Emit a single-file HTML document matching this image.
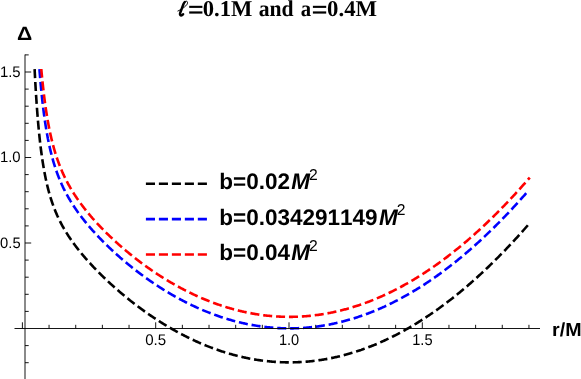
<!DOCTYPE html>
<html><head><meta charset="utf-8"><title>plot</title>
<style>html,body{margin:0;padding:0;background:#fff;}svg{display:block;will-change:transform;}text{text-rendering:geometricPrecision;font-kerning:none;}</style></head>
<body><svg width="581" height="379" viewBox="0 0 581 379" role="img" aria-label="Plot of Delta versus r/M for l=0.1M and a=0.4M">
<title>ℓ=0.1M and a=0.4M</title>
<rect x="0" y="0" width="581" height="379" fill="#fff"/>
<defs><clipPath id="cp"><rect x="0" y="69.10" width="581" height="400"/></clipPath></defs>
<path d="M34.07 57.49 L34.07 57.51 L34.07 57.55 L34.08 57.62 L34.08 57.71 L34.09 57.83 L34.09 57.99 L34.10 58.16 L34.11 58.37 L34.12 58.60 L34.13 58.86 L34.15 59.14 L34.16 59.46 L34.18 59.79 L34.19 60.16 L34.21 60.55 L34.23 60.96 L34.25 61.40 L34.27 61.87 L34.29 62.36 L34.32 62.87 L34.34 63.41 L34.37 63.97 L34.40 64.55 L34.42 65.16 L34.45 65.78 L34.49 66.44 L34.52 67.11 L34.55 67.80 L34.59 68.51 L34.62 69.25 L34.66 70.00 L34.70 70.78 L34.74 71.57 L34.78 72.38 L34.82 73.21 L34.87 74.05 L34.91 74.91 L34.96 75.79 L35.00 76.69 L35.05 77.60 L35.10 78.52 L35.15 79.46 L35.20 80.42 L35.26 81.38 L35.31 82.36 L35.37 83.35 L35.42 84.36 L35.48 85.37 L35.54 86.40 L35.60 87.44 L35.66 88.48 L35.73 89.54 L35.79 90.60 L35.86 91.68 L35.92 92.76 L35.99 93.85 L36.06 94.94 L36.13 96.04 L36.20 97.15 L36.28 98.27 L36.35 99.38 L36.43 100.51 L36.50 101.64 L36.58 102.77 L36.66 103.90 L36.74 105.04 L36.82 106.18 L36.90 107.33 L36.99 108.47 L37.07 109.62 L37.16 110.77 L37.25 111.92 L37.33 113.07 L37.42 114.22 L37.52 115.37 L37.61 116.52 L37.70 117.66 L37.80 118.81 L37.89 119.96 L37.99 121.10 L38.09 122.24 L38.19 123.38 L38.29 124.52 L38.39 125.65 L38.50 126.78 L38.60 127.91 L38.71 129.03 L38.81 130.16 L38.92 131.27 L39.03 132.38 L39.14 133.49 L39.25 134.60 L39.37 135.69 L39.48 136.79 L39.60 137.88 L39.71 138.96 L39.83 140.04 L39.95 141.11 L40.07 142.18 L40.19 143.24 L40.32 144.30 L40.44 145.35 L40.57 146.39 L40.69 147.43 L40.82 148.46 L40.95 149.49 L41.08 150.51 L41.21 151.52 L41.35 152.52 L41.48 153.52 L41.62 154.52 L41.75 155.50 L41.89 156.48 L42.03 157.45 L42.17 158.42 L42.31 159.38 L42.45 160.33 L42.60 161.27 L42.74 162.21 L42.89 163.14 L43.04 164.06 L43.19 164.98 L43.34 165.89 L43.49 166.79 L43.64 167.69 L43.79 168.58 L43.95 169.46 L44.10 170.34 L44.26 171.20 L44.42 172.07 L44.58 172.92 L44.74 173.77 L44.90 174.61 L45.07 175.44 L45.23 176.27 L45.40 177.09 L45.56 177.91 L45.73 178.71 L45.90 179.51 L46.07 180.31 L46.25 181.10 L46.42 181.88 L46.59 182.65 L46.77 183.42 L46.95 184.19 L47.12 184.94 L47.30 185.69 L47.48 186.44 L47.67 187.17 L47.85 187.91 L48.03 188.63 L48.22 189.35 L48.41 190.07 L48.59 190.78 L48.78 191.48 L48.97 192.18 L49.16 192.87 L49.36 193.56 L49.55 194.24 L49.75 194.92 L49.94 195.59 L50.14 196.25 L50.34 196.91 L50.54 197.57 L50.74 198.22 L50.94 198.86 L51.15 199.50 L51.35 200.14 L51.56 200.77 L51.77 201.40 L51.98 202.02 L52.19 202.64 L52.40 203.25 L52.61 203.86 L52.82 204.46 L53.04 205.06 L53.25 205.66 L53.47 206.25 L53.69 206.84 L53.91 207.42 L54.13 208.00 L54.35 208.58 L54.58 209.15 L54.80 209.72 L55.03 210.28 L55.26 210.84 L55.48 211.40 L55.71 211.95 L55.94 212.50 L56.18 213.05 L56.41 213.59 L56.64 214.13 L56.88 214.67 L57.12 215.21 L57.35 215.74 L57.59 216.26 L57.83 216.79 L58.08 217.31 L58.32 217.83 L58.56 218.35 L58.81 218.86 L59.06 219.37 L59.30 219.88 L59.55 220.39 L59.80 220.89 L60.06 221.39 L60.31 221.89 L60.56 222.38 L60.82 222.88 L61.07 223.37 L61.33 223.86 L61.59 224.35 L61.85 224.83 L62.11 225.31 L62.38 225.79 L62.64 226.27 L62.90 226.75 L63.17 227.22 L63.44 227.69 L63.71 228.16 L63.98 228.63 L64.25 229.10 L64.52 229.57 L64.79 230.03 L65.07 230.49 L65.35 230.95 L65.62 231.41 L65.90 231.87 L66.18 232.32 L66.46 232.78 L66.75 233.23 L67.03 233.68 L67.31 234.13 L67.60 234.58 L67.89 235.03 L68.17 235.47 L68.46 235.92 L68.76 236.36 L69.05 236.80 L69.34 237.24 L69.64 237.68 L69.93 238.12 L70.23 238.56 L70.53 238.99 L70.83 239.43 L71.13 239.86 L71.43 240.30 L71.73 240.73 L72.04 241.16 L72.34 241.59 L72.65 242.02 L72.96 242.45 L73.27 242.88 L73.58 243.31 L73.89 243.73 L74.20 244.16 L74.51 244.58 L74.83 245.01 L75.15 245.43 L75.46 245.85 L75.78 246.27 L76.10 246.69 L76.42 247.11 L76.75 247.53 L77.07 247.95 L77.40 248.37 L77.72 248.79 L78.05 249.21 L78.38 249.63 L78.71 250.04 L79.04 250.46 L79.37 250.87 L79.71 251.29 L80.04 251.70 L80.38 252.12 L80.71 252.53 L81.05 252.94 L81.39 253.35 L81.73 253.77 L82.08 254.18 L82.42 254.59 L82.76 255.00 L83.11 255.41 L83.46 255.82 L83.81 256.23 L84.16 256.64 L84.51 257.05 L84.86 257.46 L85.21 257.87 L85.57 258.27 L85.92 258.68 L86.28 259.09 L86.64 259.50 L87.00 259.90 L87.36 260.31 L87.72 260.72 L88.08 261.12 L88.45 261.53 L88.81 261.94 L89.18 262.34 L89.55 262.75 L89.92 263.15 L90.29 263.56 L90.66 263.96 L91.03 264.37 L91.41 264.77 L91.78 265.17 L92.16 265.58 L92.54 265.98 L92.91 266.38 L93.29 266.79 L93.68 267.19 L94.06 267.59 L94.44 268.00 L94.83 268.40 L95.21 268.80 L95.60 269.20 L95.99 269.60 L96.38 270.01 L96.77 270.41 L97.16 270.81 L97.56 271.21 L97.95 271.61 L98.35 272.01 L98.75 272.41 L99.15 272.81 L99.55 273.22 L99.95 273.62 L100.35 274.02 L100.75 274.42 L101.16 274.82 L101.56 275.22 L101.97 275.62 L102.38 276.02 L102.79 276.41 L103.20 276.81 L103.61 277.21 L104.02 277.61 L104.44 278.01 L104.85 278.41 L105.27 278.81 L105.69 279.21 L106.11 279.60 L106.53 280.00 L106.95 280.40 L107.37 280.80 L107.80 281.19 L108.22 281.59 L108.65 281.99 L109.08 282.39 L109.51 282.78 L109.94 283.18 L110.37 283.58 L110.80 283.97 L111.24 284.37 L111.67 284.76 L112.11 285.16 L112.55 285.56 L112.99 285.95 L113.43 286.35 L113.87 286.74 L114.31 287.14 L114.76 287.53 L115.20 287.93 L115.65 288.32 L116.09 288.71 L116.54 289.11 L116.99 289.50 L117.44 289.89 L117.90 290.29 L118.35 290.68 L118.81 291.07 L119.26 291.46 L119.72 291.86 L120.18 292.25 L120.64 292.64 L121.10 293.03 L121.56 293.42 L122.02 293.81 L122.49 294.20 L122.96 294.59 L123.42 294.98 L123.89 295.37 L124.36 295.76 L124.83 296.15 L125.30 296.54 L125.78 296.93 L126.25 297.32 L126.73 297.70 L127.20 298.09 L127.68 298.48 L128.16 298.87 L128.64 299.25 L129.12 299.64 L129.61 300.02 L130.09 300.41 L130.58 300.79 L131.06 301.18 L131.55 301.56 L132.04 301.95 L132.53 302.33 L133.02 302.71 L133.52 303.09 L134.01 303.48 L134.51 303.86 L135.00 304.24 L135.50 304.62 L136.00 305.00 L136.50 305.38 L137.00 305.76 L137.50 306.14 L138.01 306.52 L138.51 306.90 L139.02 307.27 L139.53 307.65 L140.04 308.03 L140.55 308.40 L141.06 308.78 L141.57 309.15 L142.08 309.53 L142.60 309.90 L143.11 310.28 L143.63 310.65 L144.15 311.02 L144.67 311.39 L145.19 311.76 L145.71 312.13 L146.24 312.50 L146.76 312.87 L147.29 313.24 L147.81 313.61 L148.34 313.98 L148.87 314.35 L149.40 314.71 L149.94 315.08 L150.47 315.44 L151.00 315.81 L151.54 316.17 L152.08 316.53 L152.61 316.90 L153.15 317.26 L153.69 317.62 L154.24 317.98 L154.78 318.34 L155.32 318.70 L155.87 319.06 L156.42 319.41 L156.96 319.77 L157.51 320.13 L158.06 320.48 L158.62 320.84 L159.17 321.19 L159.72 321.54 L160.28 321.89 L160.83 322.25 L161.39 322.60 L161.95 322.95 L162.51 323.29 L163.07 323.64 L163.64 323.99 L164.20 324.33 L164.77 324.68 L165.33 325.02 L165.90 325.37 L166.47 325.71 L167.04 326.05 L167.61 326.39 L168.18 326.73 L168.76 327.07 L169.33 327.41 L169.91 327.75 L170.48 328.08 L171.06 328.42 L171.64 328.75 L172.22 329.08 L172.81 329.42 L173.39 329.75 L173.97 330.08 L174.56 330.41 L175.15 330.73 L175.74 331.06 L176.33 331.39 L176.92 331.71 L177.51 332.04 L178.10 332.36 L178.70 332.68 L179.29 333.00 L179.89 333.32 L180.49 333.64 L181.09 333.96 L181.69 334.27 L182.29 334.59 L182.89 334.90 L183.50 335.21 L184.10 335.52 L184.71 335.83 L185.32 336.14 L185.93 336.45 L186.54 336.76 L187.15 337.06 L187.76 337.36 L188.38 337.67 L188.99 337.97 L189.61 338.27 L190.23 338.57 L190.84 338.86 L191.47 339.16 L192.09 339.46 L192.71 339.75 L193.33 340.04 L193.96 340.33 L194.58 340.62 L195.21 340.91 L195.84 341.20 L196.47 341.48 L197.10 341.77 L197.74 342.05 L198.37 342.33 L199.00 342.61 L199.64 342.89 L200.28 343.16 L200.92 343.44 L201.56 343.71 L202.20 343.98 L202.84 344.25 L203.48 344.52 L204.13 344.79 L204.77 345.06 L205.42 345.32 L206.07 345.59 L206.72 345.85 L207.37 346.11 L208.02 346.36 L208.68 346.62 L209.33 346.88 L209.99 347.13 L210.64 347.38 L211.30 347.63 L211.96 347.88 L212.62 348.13 L213.28 348.37 L213.95 348.62 L214.61 348.86 L215.28 349.10 L215.94 349.34 L216.61 349.57 L217.28 349.81 L217.95 350.04 L218.62 350.27 L219.30 350.50 L219.97 350.73 L220.64 350.95 L221.32 351.18 L222.00 351.40 L222.68 351.62 L223.36 351.84 L224.04 352.06 L224.72 352.27 L225.41 352.48 L226.09 352.69 L226.78 352.90 L227.47 353.11 L228.15 353.32 L228.84 353.52 L229.54 353.72 L230.23 353.92 L230.92 354.12 L231.62 354.31 L232.31 354.51 L233.01 354.70 L233.71 354.89 L234.41 355.07 L235.11 355.26 L235.81 355.44 L236.52 355.62 L237.22 355.80 L237.93 355.98 L238.63 356.15 L239.34 356.33 L240.05 356.50 L240.76 356.66 L241.48 356.83 L242.19 356.99 L242.90 357.16 L243.62 357.32 L244.34 357.47 L245.05 357.63 L245.77 357.78 L246.49 357.93 L247.22 358.08 L247.94 358.22 L248.66 358.37 L249.39 358.51 L250.12 358.65 L250.84 358.79 L251.57 358.92 L252.30 359.05 L253.04 359.18 L253.77 359.31 L254.50 359.43 L255.24 359.56 L255.97 359.68 L256.71 359.79 L257.45 359.91 L258.19 360.02 L258.93 360.13 L259.68 360.24 L260.42 360.34 L261.17 360.45 L261.91 360.55 L262.66 360.65 L263.41 360.74 L264.16 360.83 L264.91 360.92 L265.66 361.01 L266.42 361.09 L267.17 361.18 L267.93 361.26 L268.68 361.33 L269.44 361.41 L270.20 361.48 L270.96 361.55 L271.73 361.61 L272.49 361.68 L273.25 361.74 L274.02 361.80 L274.79 361.85 L275.56 361.90 L276.33 361.95 L277.10 362.00 L277.87 362.04 L278.64 362.09 L279.42 362.12 L280.19 362.16 L280.97 362.19 L281.75 362.22 L282.53 362.25 L283.31 362.27 L284.09 362.29 L284.87 362.31 L285.66 362.33 L286.44 362.34 L287.23 362.35 L288.02 362.36 L288.81 362.36 L289.60 362.36 L290.39 362.36 L291.18 362.35 L291.98 362.34 L292.77 362.33 L293.57 362.32 L294.37 362.30 L295.17 362.28 L295.97 362.25 L296.77 362.23 L297.57 362.19 L298.37 362.16 L299.18 362.12 L299.99 362.08 L300.79 362.04 L301.60 361.99 L302.41 361.94 L303.22 361.89 L304.04 361.84 L304.85 361.78 L305.66 361.71 L306.48 361.65 L307.30 361.58 L308.12 361.50 L308.94 361.43 L309.76 361.35 L310.58 361.27 L311.40 361.18 L312.23 361.09 L313.05 361.00 L313.88 360.90 L314.71 360.80 L315.54 360.70 L316.37 360.59 L317.20 360.48 L318.04 360.37 L318.87 360.25 L319.71 360.13 L320.54 360.00 L321.38 359.88 L322.22 359.74 L323.06 359.61 L323.90 359.47 L324.75 359.33 L325.59 359.18 L326.44 359.03 L327.28 358.88 L328.13 358.72 L328.98 358.56 L329.83 358.39 L330.68 358.23 L331.54 358.05 L332.39 357.88 L333.25 357.70 L334.10 357.52 L334.96 357.33 L335.82 357.14 L336.68 356.94 L337.54 356.74 L338.40 356.54 L339.27 356.33 L340.13 356.12 L341.00 355.91 L341.87 355.69 L342.74 355.47 L343.61 355.24 L344.48 355.01 L345.35 354.78 L346.22 354.54 L347.10 354.30 L347.98 354.05 L348.85 353.80 L349.73 353.55 L350.61 353.29 L351.49 353.03 L352.37 352.76 L353.26 352.49 L354.14 352.22 L355.03 351.94 L355.92 351.65 L356.80 351.37 L357.69 351.07 L358.59 350.78 L359.48 350.48 L360.37 350.17 L361.27 349.87 L362.16 349.55 L363.06 349.24 L363.96 348.91 L364.86 348.59 L365.76 348.26 L366.66 347.92 L367.56 347.58 L368.47 347.24 L369.37 346.89 L370.28 346.54 L371.19 346.19 L372.10 345.82 L373.01 345.46 L373.92 345.09 L374.83 344.71 L375.75 344.34 L376.66 343.95 L377.58 343.56 L378.50 343.17 L379.41 342.77 L380.33 342.37 L381.26 341.96 L382.18 341.55 L383.10 341.14 L384.03 340.72 L384.95 340.29 L385.88 339.86 L386.81 339.43 L387.74 338.99 L388.67 338.54 L389.60 338.10 L390.54 337.64 L391.47 337.18 L392.41 336.72 L393.35 336.25 L394.29 335.78 L395.23 335.30 L396.17 334.82 L397.11 334.33 L398.05 333.84 L399.00 333.34 L399.94 332.84 L400.89 332.33 L401.84 331.82 L402.79 331.30 L403.74 330.78 L404.69 330.25 L405.65 329.72 L406.60 329.18 L407.56 328.64 L408.51 328.09 L409.47 327.54 L410.43 326.98 L411.39 326.42 L412.35 325.85 L413.32 325.27 L414.28 324.70 L415.25 324.11 L416.21 323.52 L417.18 322.93 L418.15 322.33 L419.12 321.72 L420.09 321.11 L421.07 320.50 L422.04 319.88 L423.02 319.25 L423.99 318.62 L424.97 317.98 L425.95 317.34 L426.93 316.69 L427.91 316.04 L428.89 315.38 L429.88 314.71 L430.86 314.04 L431.85 313.37 L432.84 312.69 L433.83 312.00 L434.82 311.31 L435.81 310.61 L436.80 309.91 L437.79 309.20 L438.79 308.49 L439.78 307.77 L440.78 307.04 L441.78 306.31 L442.78 305.57 L443.78 304.83 L444.78 304.08 L445.79 303.33 L446.79 302.57 L447.80 301.80 L448.81 301.03 L449.81 300.25 L450.82 299.47 L451.84 298.68 L452.85 297.88 L453.86 297.08 L454.88 296.27 L455.89 295.46 L456.91 294.64 L457.93 293.82 L458.95 292.99 L459.97 292.15 L460.99 291.31 L462.01 290.46 L463.04 289.60 L464.06 288.74 L465.09 287.87 L466.12 287.00 L467.15 286.12 L468.18 285.24 L469.21 284.34 L470.24 283.45 L471.28 282.54 L472.31 281.63 L473.35 280.71 L474.39 279.79 L475.42 278.86 L476.46 277.93 L477.51 276.98 L478.55 276.04 L479.59 275.08 L480.64 274.12 L481.68 273.15 L482.73 272.18 L483.78 271.20 L484.83 270.21 L485.88 269.22 L486.94 268.22 L487.99 267.21 L489.04 266.20 L490.10 265.18 L491.16 264.16 L492.22 263.12 L493.28 262.09 L494.34 261.04 L495.40 259.99 L496.46 258.93 L497.53 257.86 L498.59 256.79 L499.66 255.71 L500.73 254.63 L501.80 253.53 L502.87 252.44 L503.94 251.33 L505.02 250.22 L506.09 249.10 L507.17 247.97 L508.24 246.84 L509.32 245.70 L510.40 244.55 L511.48 243.40 L512.56 242.24 L513.65 241.07 L514.73 239.89 L515.82 238.71 L516.90 237.52 L517.99 236.33 L519.08 235.12 L520.17 233.91 L521.26 232.70 L522.36 231.47 L523.45 230.24 L524.55 229.00 L525.64 227.76 L526.74 226.50 L527.84 225.24 L528.94 223.98" fill="none" stroke="#000000" stroke-width="2.6" stroke-linecap="square" stroke-dasharray="6.46 6.46" stroke-dashoffset="0.0" clip-path="url(#cp)"/>
<path d="M38.60 57.49 L38.60 57.50 L38.60 57.52 L38.60 57.57 L38.61 57.63 L38.61 57.71 L38.62 57.81 L38.63 57.92 L38.63 58.06 L38.65 58.21 L38.66 58.37 L38.67 58.56 L38.68 58.76 L38.70 58.98 L38.72 59.21 L38.73 59.47 L38.75 59.74 L38.77 60.02 L38.79 60.33 L38.82 60.64 L38.84 60.98 L38.86 61.33 L38.89 61.70 L38.92 62.08 L38.95 62.48 L38.98 62.89 L39.01 63.32 L39.04 63.76 L39.07 64.22 L39.11 64.69 L39.14 65.18 L39.18 65.68 L39.22 66.19 L39.26 66.72 L39.30 67.26 L39.34 67.81 L39.38 68.38 L39.43 68.96 L39.47 69.55 L39.52 70.15 L39.57 70.77 L39.62 71.39 L39.67 72.03 L39.72 72.68 L39.77 73.34 L39.82 74.01 L39.88 74.69 L39.94 75.38 L39.99 76.08 L40.05 76.78 L40.11 77.50 L40.17 78.23 L40.24 78.96 L40.30 79.70 L40.37 80.45 L40.43 81.21 L40.50 81.97 L40.57 82.75 L40.64 83.53 L40.71 84.31 L40.78 85.10 L40.85 85.90 L40.93 86.70 L41.00 87.51 L41.08 88.33 L41.16 89.14 L41.24 89.97 L41.32 90.79 L41.40 91.63 L41.48 92.46 L41.57 93.30 L41.65 94.14 L41.74 94.99 L41.83 95.84 L41.92 96.69 L42.01 97.54 L42.10 98.40 L42.19 99.26 L42.29 100.12 L42.38 100.98 L42.48 101.84 L42.58 102.70 L42.68 103.57 L42.78 104.44 L42.88 105.30 L42.98 106.17 L43.08 107.03 L43.19 107.90 L43.29 108.77 L43.40 109.63 L43.51 110.50 L43.62 111.36 L43.73 112.23 L43.84 113.09 L43.96 113.95 L44.07 114.82 L44.19 115.67 L44.30 116.53 L44.42 117.39 L44.54 118.24 L44.66 119.10 L44.79 119.95 L44.91 120.79 L45.03 121.64 L45.16 122.48 L45.29 123.32 L45.41 124.16 L45.54 125.00 L45.67 125.83 L45.80 126.66 L45.94 127.49 L46.07 128.31 L46.21 129.13 L46.34 129.95 L46.48 130.76 L46.62 131.57 L46.76 132.38 L46.90 133.19 L47.04 133.99 L47.19 134.78 L47.33 135.58 L47.48 136.37 L47.63 137.15 L47.78 137.93 L47.92 138.71 L48.08 139.49 L48.23 140.26 L48.38 141.02 L48.54 141.79 L48.69 142.55 L48.85 143.30 L49.01 144.05 L49.17 144.80 L49.33 145.54 L49.49 146.28 L49.65 147.02 L49.82 147.75 L49.98 148.47 L50.15 149.20 L50.32 149.91 L50.49 150.63 L50.66 151.34 L50.83 152.05 L51.00 152.75 L51.18 153.45 L51.35 154.14 L51.53 154.83 L51.71 155.52 L51.89 156.20 L52.07 156.88 L52.25 157.55 L52.43 158.22 L52.61 158.89 L52.80 159.55 L52.98 160.21 L53.17 160.86 L53.36 161.52 L53.55 162.16 L53.74 162.81 L53.93 163.45 L54.13 164.08 L54.32 164.71 L54.52 165.34 L54.72 165.97 L54.91 166.59 L55.11 167.20 L55.31 167.82 L55.52 168.43 L55.72 169.04 L55.92 169.64 L56.13 170.24 L56.34 170.84 L56.55 171.43 L56.75 172.02 L56.96 172.61 L57.18 173.19 L57.39 173.77 L57.60 174.35 L57.82 174.92 L58.04 175.49 L58.25 176.06 L58.47 176.62 L58.69 177.18 L58.91 177.74 L59.14 178.30 L59.36 178.85 L59.59 179.40 L59.81 179.95 L60.04 180.49 L60.27 181.03 L60.50 181.57 L60.73 182.11 L60.96 182.64 L61.20 183.17 L61.43 183.70 L61.67 184.22 L61.90 184.75 L62.14 185.27 L62.38 185.79 L62.62 186.30 L62.86 186.82 L63.11 187.33 L63.35 187.84 L63.60 188.34 L63.84 188.85 L64.09 189.35 L64.34 189.85 L64.59 190.35 L64.84 190.84 L65.10 191.34 L65.35 191.83 L65.61 192.32 L65.86 192.81 L66.12 193.29 L66.38 193.78 L66.64 194.26 L66.90 194.74 L67.17 195.22 L67.43 195.70 L67.69 196.17 L67.96 196.65 L68.23 197.12 L68.50 197.59 L68.77 198.06 L69.04 198.52 L69.31 198.99 L69.58 199.45 L69.86 199.91 L70.14 200.38 L70.41 200.84 L70.69 201.29 L70.97 201.75 L71.25 202.21 L71.53 202.66 L71.82 203.11 L72.10 203.56 L72.39 204.01 L72.67 204.46 L72.96 204.91 L73.25 205.36 L73.54 205.80 L73.83 206.25 L74.13 206.69 L74.42 207.13 L74.72 207.57 L75.01 208.01 L75.31 208.45 L75.61 208.89 L75.91 209.33 L76.21 209.76 L76.52 210.20 L76.82 210.63 L77.12 211.07 L77.43 211.50 L77.74 211.93 L78.05 212.36 L78.36 212.79 L78.67 213.22 L78.98 213.65 L79.29 214.07 L79.61 214.50 L79.93 214.93 L80.24 215.35 L80.56 215.77 L80.88 216.20 L81.20 216.62 L81.52 217.04 L81.85 217.46 L82.17 217.89 L82.50 218.31 L82.83 218.73 L83.15 219.14 L83.48 219.56 L83.81 219.98 L84.15 220.40 L84.48 220.81 L84.81 221.23 L85.15 221.65 L85.49 222.06 L85.82 222.48 L86.16 222.89 L86.50 223.30 L86.84 223.72 L87.19 224.13 L87.53 224.54 L87.88 224.95 L88.22 225.36 L88.57 225.77 L88.92 226.18 L89.27 226.59 L89.62 227.00 L89.97 227.41 L90.33 227.82 L90.68 228.23 L91.04 228.64 L91.40 229.05 L91.75 229.45 L92.11 229.86 L92.47 230.27 L92.84 230.67 L93.20 231.08 L93.56 231.48 L93.93 231.89 L94.30 232.29 L94.67 232.70 L95.04 233.10 L95.41 233.50 L95.78 233.91 L96.15 234.31 L96.53 234.71 L96.90 235.12 L97.28 235.52 L97.66 235.92 L98.03 236.32 L98.42 236.72 L98.80 237.13 L99.18 237.53 L99.56 237.93 L99.95 238.33 L100.34 238.73 L100.72 239.13 L101.11 239.53 L101.50 239.93 L101.89 240.33 L102.29 240.73 L102.68 241.12 L103.07 241.52 L103.47 241.92 L103.87 242.32 L104.27 242.72 L104.67 243.11 L105.07 243.51 L105.47 243.91 L105.87 244.30 L106.28 244.70 L106.68 245.10 L107.09 245.49 L107.50 245.89 L107.91 246.28 L108.32 246.68 L108.73 247.07 L109.15 247.47 L109.56 247.86 L109.98 248.26 L110.39 248.65 L110.81 249.05 L111.23 249.44 L111.65 249.83 L112.07 250.23 L112.49 250.62 L112.92 251.01 L113.34 251.40 L113.77 251.80 L114.20 252.19 L114.63 252.58 L115.06 252.97 L115.49 253.36 L115.92 253.75 L116.35 254.14 L116.79 254.53 L117.23 254.92 L117.66 255.31 L118.10 255.70 L118.54 256.09 L118.98 256.48 L119.43 256.87 L119.87 257.26 L120.31 257.65 L120.76 258.03 L121.21 258.42 L121.65 258.81 L122.10 259.19 L122.56 259.58 L123.01 259.97 L123.46 260.35 L123.91 260.74 L124.37 261.12 L124.83 261.51 L125.29 261.89 L125.74 262.28 L126.21 262.66 L126.67 263.05 L127.13 263.43 L127.59 263.81 L128.06 264.19 L128.53 264.58 L128.99 264.96 L129.46 265.34 L129.93 265.72 L130.40 266.10 L130.88 266.48 L131.35 266.86 L131.83 267.24 L132.30 267.62 L132.78 268.00 L133.26 268.38 L133.74 268.75 L134.22 269.13 L134.70 269.51 L135.19 269.89 L135.67 270.26 L136.16 270.64 L136.64 271.01 L137.13 271.39 L137.62 271.76 L138.11 272.14 L138.60 272.51 L139.10 272.88 L139.59 273.25 L140.09 273.63 L140.58 274.00 L141.08 274.37 L141.58 274.74 L142.08 275.11 L142.58 275.48 L143.09 275.85 L143.59 276.21 L144.10 276.58 L144.60 276.95 L145.11 277.32 L145.62 277.68 L146.13 278.05 L146.64 278.41 L147.15 278.78 L147.67 279.14 L148.18 279.50 L148.70 279.87 L149.22 280.23 L149.74 280.59 L150.26 280.95 L150.78 281.31 L151.30 281.67 L151.82 282.03 L152.35 282.39 L152.87 282.74 L153.40 283.10 L153.93 283.46 L154.46 283.81 L154.99 284.17 L155.52 284.52 L156.06 284.87 L156.59 285.22 L157.13 285.58 L157.66 285.93 L158.20 286.28 L158.74 286.63 L159.28 286.98 L159.82 287.32 L160.37 287.67 L160.91 288.02 L161.45 288.36 L162.00 288.71 L162.55 289.05 L163.10 289.40 L163.65 289.74 L164.20 290.08 L164.75 290.42 L165.31 290.76 L165.86 291.10 L166.42 291.44 L166.98 291.77 L167.53 292.11 L168.09 292.45 L168.66 292.78 L169.22 293.11 L169.78 293.45 L170.35 293.78 L170.91 294.11 L171.48 294.44 L172.05 294.77 L172.62 295.10 L173.19 295.42 L173.76 295.75 L174.33 296.08 L174.91 296.40 L175.49 296.72 L176.06 297.04 L176.64 297.37 L177.22 297.69 L177.80 298.00 L178.38 298.32 L178.97 298.64 L179.55 298.96 L180.13 299.27 L180.72 299.58 L181.31 299.90 L181.90 300.21 L182.49 300.52 L183.08 300.83 L183.67 301.13 L184.27 301.44 L184.86 301.75 L185.46 302.05 L186.06 302.36 L186.66 302.66 L187.26 302.96 L187.86 303.26 L188.46 303.56 L189.06 303.85 L189.67 304.15 L190.27 304.45 L190.88 304.74 L191.49 305.03 L192.10 305.32 L192.71 305.61 L193.32 305.90 L193.94 306.19 L194.55 306.47 L195.17 306.76 L195.78 307.04 L196.40 307.32 L197.02 307.60 L197.64 307.88 L198.26 308.16 L198.89 308.44 L199.51 308.71 L200.14 308.99 L200.76 309.26 L201.39 309.53 L202.02 309.80 L202.65 310.07 L203.28 310.33 L203.91 310.60 L204.55 310.86 L205.18 311.12 L205.82 311.38 L206.46 311.64 L207.10 311.90 L207.74 312.15 L208.38 312.41 L209.02 312.66 L209.66 312.91 L210.31 313.16 L210.96 313.41 L211.60 313.66 L212.25 313.90 L212.90 314.14 L213.55 314.39 L214.20 314.63 L214.86 314.86 L215.51 315.10 L216.17 315.34 L216.83 315.57 L217.48 315.80 L218.14 316.03 L218.80 316.26 L219.47 316.49 L220.13 316.71 L220.79 316.93 L221.46 317.15 L222.13 317.37 L222.79 317.59 L223.46 317.81 L224.13 318.02 L224.81 318.23 L225.48 318.44 L226.15 318.65 L226.83 318.86 L227.50 319.06 L228.18 319.27 L228.86 319.47 L229.54 319.67 L230.22 319.86 L230.90 320.06 L231.59 320.25 L232.27 320.44 L232.96 320.63 L233.65 320.82 L234.34 321.00 L235.03 321.19 L235.72 321.37 L236.41 321.55 L237.10 321.73 L237.80 321.90 L238.49 322.08 L239.19 322.25 L239.89 322.42 L240.59 322.58 L241.29 322.75 L241.99 322.91 L242.69 323.07 L243.40 323.23 L244.10 323.39 L244.81 323.54 L245.52 323.69 L246.23 323.84 L246.94 323.99 L247.65 324.14 L248.36 324.28 L249.08 324.42 L249.79 324.56 L250.51 324.69 L251.23 324.83 L251.95 324.96 L252.67 325.09 L253.39 325.22 L254.11 325.34 L254.83 325.47 L255.56 325.59 L256.28 325.70 L257.01 325.82 L257.74 325.93 L258.47 326.04 L259.20 326.15 L259.93 326.26 L260.67 326.36 L261.40 326.46 L262.14 326.56 L262.88 326.66 L263.61 326.75 L264.35 326.84 L265.09 326.93 L265.84 327.02 L266.58 327.10 L267.32 327.18 L268.07 327.26 L268.82 327.34 L269.56 327.41 L270.31 327.48 L271.06 327.55 L271.82 327.61 L272.57 327.68 L273.32 327.74 L274.08 327.80 L274.83 327.85 L275.59 327.90 L276.35 327.95 L277.11 328.00 L277.87 328.04 L278.64 328.08 L279.40 328.12 L280.16 328.16 L280.93 328.19 L281.70 328.22 L282.47 328.25 L283.24 328.27 L284.01 328.29 L284.78 328.31 L285.55 328.33 L286.33 328.34 L287.10 328.35 L287.88 328.36 L288.66 328.36 L289.44 328.37 L290.22 328.36 L291.00 328.36 L291.79 328.35 L292.57 328.34 L293.36 328.33 L294.14 328.31 L294.93 328.29 L295.72 328.27 L296.51 328.25 L297.30 328.22 L298.10 328.18 L298.89 328.15 L299.69 328.11 L300.48 328.07 L301.28 328.03 L302.08 327.98 L302.88 327.93 L303.68 327.88 L304.48 327.82 L305.29 327.76 L306.09 327.70 L306.90 327.63 L307.71 327.56 L308.51 327.49 L309.32 327.41 L310.14 327.33 L310.95 327.25 L311.76 327.16 L312.58 327.07 L313.39 326.98 L314.21 326.88 L315.03 326.78 L315.85 326.68 L316.67 326.57 L317.49 326.46 L318.31 326.35 L319.14 326.23 L319.96 326.11 L320.79 325.99 L321.62 325.86 L322.45 325.73 L323.28 325.60 L324.11 325.46 L324.94 325.32 L325.78 325.17 L326.61 325.03 L327.45 324.87 L328.29 324.72 L329.13 324.56 L329.97 324.40 L330.81 324.23 L331.65 324.06 L332.50 323.89 L333.34 323.71 L334.19 323.53 L335.04 323.34 L335.88 323.15 L336.73 322.96 L337.59 322.76 L338.44 322.56 L339.29 322.36 L340.15 322.15 L341.00 321.94 L341.86 321.73 L342.72 321.51 L343.58 321.28 L344.44 321.06 L345.30 320.83 L346.16 320.59 L347.03 320.35 L347.89 320.11 L348.76 319.86 L349.63 319.61 L350.50 319.36 L351.37 319.10 L352.24 318.84 L353.11 318.57 L353.99 318.30 L354.86 318.03 L355.74 317.75 L356.62 317.46 L357.50 317.18 L358.38 316.89 L359.26 316.59 L360.14 316.29 L361.03 315.99 L361.91 315.68 L362.80 315.37 L363.69 315.05 L364.57 314.73 L365.46 314.41 L366.36 314.08 L367.25 313.74 L368.14 313.41 L369.04 313.06 L369.93 312.72 L370.83 312.37 L371.73 312.01 L372.63 311.65 L373.53 311.29 L374.43 310.92 L375.34 310.55 L376.24 310.17 L377.15 309.79 L378.05 309.40 L378.96 309.01 L379.87 308.62 L380.78 308.22 L381.69 307.82 L382.61 307.41 L383.52 306.99 L384.44 306.58 L385.35 306.15 L386.27 305.73 L387.19 305.30 L388.11 304.86 L389.03 304.42 L389.95 303.97 L390.88 303.52 L391.80 303.07 L392.73 302.61 L393.66 302.14 L394.59 301.67 L395.52 301.20 L396.45 300.72 L397.38 300.24 L398.31 299.75 L399.25 299.26 L400.19 298.76 L401.12 298.25 L402.06 297.75 L403.00 297.23 L403.94 296.72 L404.88 296.19 L405.83 295.67 L406.77 295.13 L407.72 294.60 L408.67 294.05 L409.61 293.51 L410.56 292.95 L411.51 292.40 L412.47 291.83 L413.42 291.26 L414.37 290.69 L415.33 290.11 L416.29 289.53 L417.24 288.94 L418.20 288.35 L419.16 287.75 L420.13 287.15 L421.09 286.54 L422.05 285.92 L423.02 285.30 L423.98 284.68 L424.95 284.05 L425.92 283.41 L426.89 282.77 L427.86 282.12 L428.83 281.47 L429.81 280.82 L430.78 280.15 L431.76 279.49 L432.74 278.81 L433.72 278.13 L434.70 277.45 L435.68 276.76 L436.66 276.07 L437.64 275.36 L438.63 274.66 L439.61 273.95 L440.60 273.23 L441.59 272.51 L442.58 271.78 L443.57 271.04 L444.56 270.30 L445.55 269.56 L446.55 268.81 L447.54 268.05 L448.54 267.29 L449.54 266.52 L450.54 265.75 L451.54 264.97 L452.54 264.18 L453.54 263.39 L454.55 262.59 L455.55 261.79 L456.56 260.98 L457.57 260.17 L458.58 259.35 L459.59 258.52 L460.60 257.69 L461.61 256.85 L462.62 256.01 L463.64 255.16 L464.65 254.30 L465.67 253.44 L466.69 252.57 L467.71 251.70 L468.73 250.82 L469.75 249.93 L470.78 249.04 L471.80 248.14 L472.83 247.23 L473.86 246.32 L474.88 245.41 L475.91 244.48 L476.94 243.55 L477.98 242.62 L479.01 241.68 L480.04 240.73 L481.08 239.77 L482.12 238.81 L483.15 237.85 L484.19 236.87 L485.23 235.89 L486.28 234.91 L487.32 233.92 L488.36 232.92 L489.41 231.91 L490.46 230.90 L491.50 229.88 L492.55 228.86 L493.60 227.83 L494.65 226.79 L495.71 225.75 L496.76 224.70 L497.82 223.64 L498.87 222.58 L499.93 221.50 L500.99 220.43 L502.05 219.34 L503.11 218.25 L504.17 217.16 L505.23 216.05 L506.30 214.94 L507.37 213.83 L508.43 212.70 L509.50 211.57 L510.57 210.43 L511.64 209.29 L512.71 208.14 L513.79 206.98 L514.86 205.82 L515.94 204.65 L517.01 203.47 L518.09 202.28 L519.17 201.09 L520.25 199.89 L521.33 198.68 L522.42 197.47 L523.50 196.25 L524.59 195.02 L525.67 193.79 L526.76 192.55 L527.85 191.30 L528.94 190.04" fill="none" stroke="#0000ff" stroke-width="2.6" stroke-linecap="square" stroke-dasharray="6.46 6.46" stroke-dashoffset="0.0" clip-path="url(#cp)"/>
<path d="M40.32 57.51 L40.32 57.52 L40.32 57.54 L40.32 57.58 L40.33 57.64 L40.33 57.70 L40.34 57.79 L40.35 57.89 L40.36 58.00 L40.37 58.13 L40.38 58.28 L40.39 58.44 L40.41 58.61 L40.42 58.80 L40.44 59.00 L40.45 59.22 L40.47 59.45 L40.49 59.70 L40.51 59.96 L40.54 60.24 L40.56 60.53 L40.59 60.83 L40.61 61.15 L40.64 61.48 L40.67 61.83 L40.70 62.18 L40.73 62.55 L40.76 62.94 L40.79 63.34 L40.83 63.75 L40.86 64.17 L40.90 64.60 L40.94 65.05 L40.98 65.51 L41.02 65.98 L41.06 66.46 L41.10 66.95 L41.15 67.46 L41.19 67.97 L41.24 68.50 L41.29 69.03 L41.34 69.58 L41.39 70.14 L41.44 70.70 L41.49 71.28 L41.54 71.87 L41.60 72.46 L41.65 73.07 L41.71 73.68 L41.77 74.30 L41.83 74.93 L41.89 75.57 L41.95 76.21 L42.02 76.87 L42.08 77.53 L42.15 78.20 L42.21 78.87 L42.28 79.55 L42.35 80.24 L42.42 80.93 L42.50 81.63 L42.57 82.34 L42.64 83.05 L42.72 83.77 L42.80 84.49 L42.87 85.22 L42.95 85.95 L43.03 86.68 L43.11 87.43 L43.20 88.17 L43.28 88.92 L43.37 89.67 L43.45 90.43 L43.54 91.18 L43.63 91.95 L43.72 92.71 L43.81 93.48 L43.90 94.25 L44.00 95.02 L44.09 95.79 L44.19 96.57 L44.29 97.35 L44.38 98.13 L44.48 98.91 L44.58 99.69 L44.69 100.47 L44.79 101.26 L44.89 102.04 L45.00 102.83 L45.11 103.61 L45.22 104.40 L45.33 105.18 L45.44 105.97 L45.55 106.75 L45.66 107.54 L45.78 108.32 L45.89 109.11 L46.01 109.89 L46.13 110.68 L46.24 111.46 L46.36 112.24 L46.49 113.02 L46.61 113.80 L46.73 114.57 L46.86 115.35 L46.98 116.12 L47.11 116.89 L47.24 117.67 L47.37 118.43 L47.50 119.20 L47.63 119.96 L47.77 120.73 L47.90 121.49 L48.04 122.25 L48.18 123.00 L48.31 123.75 L48.45 124.50 L48.59 125.25 L48.74 126.00 L48.88 126.74 L49.02 127.48 L49.17 128.22 L49.32 128.95 L49.47 129.69 L49.61 130.41 L49.77 131.14 L49.92 131.86 L50.07 132.58 L50.22 133.30 L50.38 134.01 L50.54 134.72 L50.69 135.43 L50.85 136.14 L51.01 136.84 L51.17 137.53 L51.34 138.23 L51.50 138.92 L51.67 139.61 L51.83 140.29 L52.00 140.98 L52.17 141.65 L52.34 142.33 L52.51 143.00 L52.68 143.67 L52.86 144.33 L53.03 145.00 L53.21 145.65 L53.38 146.31 L53.56 146.96 L53.74 147.61 L53.92 148.26 L54.10 148.90 L54.29 149.54 L54.47 150.17 L54.66 150.80 L54.84 151.43 L55.03 152.06 L55.22 152.68 L55.41 153.30 L55.60 153.92 L55.80 154.53 L55.99 155.14 L56.19 155.74 L56.38 156.35 L56.58 156.95 L56.78 157.55 L56.98 158.14 L57.18 158.73 L57.38 159.32 L57.59 159.90 L57.79 160.49 L58.00 161.07 L58.20 161.64 L58.41 162.21 L58.62 162.79 L58.83 163.35 L59.05 163.92 L59.26 164.48 L59.47 165.04 L59.69 165.60 L59.91 166.15 L60.13 166.70 L60.34 167.25 L60.57 167.80 L60.79 168.34 L61.01 168.88 L61.23 169.42 L61.46 169.95 L61.69 170.49 L61.92 171.02 L62.14 171.55 L62.37 172.07 L62.61 172.60 L62.84 173.12 L63.07 173.64 L63.31 174.15 L63.54 174.67 L63.78 175.18 L64.02 175.69 L64.26 176.20 L64.50 176.70 L64.74 177.21 L64.99 177.71 L65.23 178.21 L65.48 178.71 L65.73 179.20 L65.97 179.70 L66.22 180.19 L66.48 180.68 L66.73 181.17 L66.98 181.65 L67.24 182.14 L67.49 182.62 L67.75 183.10 L68.01 183.58 L68.27 184.06 L68.53 184.53 L68.79 185.01 L69.05 185.48 L69.32 185.95 L69.58 186.42 L69.85 186.89 L70.11 187.35 L70.38 187.82 L70.65 188.28 L70.93 188.74 L71.20 189.20 L71.47 189.66 L71.75 190.12 L72.02 190.58 L72.30 191.03 L72.58 191.49 L72.86 191.94 L73.14 192.39 L73.42 192.84 L73.71 193.29 L73.99 193.74 L74.28 194.18 L74.56 194.63 L74.85 195.07 L75.14 195.52 L75.43 195.96 L75.73 196.40 L76.02 196.84 L76.31 197.28 L76.61 197.72 L76.91 198.15 L77.20 198.59 L77.50 199.02 L77.80 199.46 L78.11 199.89 L78.41 200.32 L78.71 200.75 L79.02 201.18 L79.32 201.61 L79.63 202.04 L79.94 202.47 L80.25 202.90 L80.56 203.32 L80.87 203.75 L81.19 204.17 L81.50 204.60 L81.82 205.02 L82.14 205.45 L82.46 205.87 L82.78 206.29 L83.10 206.71 L83.42 207.13 L83.74 207.55 L84.07 207.97 L84.39 208.39 L84.72 208.80 L85.05 209.22 L85.38 209.64 L85.71 210.05 L86.04 210.47 L86.37 210.88 L86.71 211.30 L87.04 211.71 L87.38 212.12 L87.72 212.54 L88.06 212.95 L88.40 213.36 L88.74 213.77 L89.08 214.18 L89.43 214.59 L89.77 215.00 L90.12 215.41 L90.47 215.82 L90.81 216.23 L91.16 216.64 L91.52 217.04 L91.87 217.45 L92.22 217.86 L92.58 218.26 L92.93 218.67 L93.29 219.07 L93.65 219.48 L94.01 219.89 L94.37 220.29 L94.73 220.69 L95.09 221.10 L95.46 221.50 L95.82 221.90 L96.19 222.31 L96.56 222.71 L96.93 223.11 L97.30 223.51 L97.67 223.92 L98.04 224.32 L98.42 224.72 L98.79 225.12 L99.17 225.52 L99.55 225.92 L99.93 226.32 L100.31 226.72 L100.69 227.12 L101.07 227.52 L101.46 227.91 L101.84 228.31 L102.23 228.71 L102.62 229.11 L103.00 229.51 L103.39 229.90 L103.79 230.30 L104.18 230.70 L104.57 231.09 L104.97 231.49 L105.36 231.89 L105.76 232.28 L106.16 232.68 L106.56 233.07 L106.96 233.47 L107.36 233.86 L107.76 234.25 L108.17 234.65 L108.57 235.04 L108.98 235.44 L109.39 235.83 L109.80 236.22 L110.21 236.62 L110.62 237.01 L111.03 237.40 L111.45 237.79 L111.86 238.18 L112.28 238.58 L112.70 238.97 L113.12 239.36 L113.54 239.75 L113.96 240.14 L114.38 240.53 L114.80 240.92 L115.23 241.31 L115.65 241.70 L116.08 242.09 L116.51 242.48 L116.94 242.86 L117.37 243.25 L117.80 243.64 L118.24 244.03 L118.67 244.42 L119.11 244.80 L119.55 245.19 L119.98 245.58 L120.42 245.96 L120.86 246.35 L121.31 246.73 L121.75 247.12 L122.19 247.50 L122.64 247.89 L123.09 248.27 L123.53 248.66 L123.98 249.04 L124.43 249.42 L124.88 249.81 L125.34 250.19 L125.79 250.57 L126.25 250.95 L126.70 251.34 L127.16 251.72 L127.62 252.10 L128.08 252.48 L128.54 252.86 L129.00 253.24 L129.47 253.62 L129.93 254.00 L130.40 254.38 L130.87 254.75 L131.33 255.13 L131.80 255.51 L132.28 255.89 L132.75 256.26 L133.22 256.64 L133.70 257.02 L134.17 257.39 L134.65 257.77 L135.13 258.14 L135.61 258.52 L136.09 258.89 L136.57 259.26 L137.05 259.64 L137.54 260.01 L138.02 260.38 L138.51 260.75 L139.00 261.12 L139.48 261.49 L139.98 261.86 L140.47 262.23 L140.96 262.60 L141.45 262.97 L141.95 263.34 L142.44 263.71 L142.94 264.07 L143.44 264.44 L143.94 264.80 L144.44 265.17 L144.94 265.53 L145.45 265.90 L145.95 266.26 L146.46 266.63 L146.97 266.99 L147.48 267.35 L147.98 267.71 L148.50 268.07 L149.01 268.43 L149.52 268.79 L150.04 269.15 L150.55 269.51 L151.07 269.87 L151.59 270.22 L152.11 270.58 L152.63 270.94 L153.15 271.29 L153.67 271.65 L154.19 272.00 L154.72 272.35 L155.25 272.70 L155.77 273.06 L156.30 273.41 L156.83 273.76 L157.37 274.11 L157.90 274.46 L158.43 274.80 L158.97 275.15 L159.50 275.50 L160.04 275.84 L160.58 276.19 L161.12 276.53 L161.66 276.88 L162.20 277.22 L162.75 277.56 L163.29 277.90 L163.84 278.24 L164.38 278.58 L164.93 278.92 L165.48 279.26 L166.03 279.60 L166.58 279.93 L167.14 280.27 L167.69 280.60 L168.25 280.93 L168.80 281.27 L169.36 281.60 L169.92 281.93 L170.48 282.26 L171.04 282.59 L171.61 282.92 L172.17 283.24 L172.74 283.57 L173.30 283.89 L173.87 284.22 L174.44 284.54 L175.01 284.86 L175.58 285.18 L176.15 285.51 L176.73 285.82 L177.30 286.14 L177.88 286.46 L178.46 286.78 L179.03 287.09 L179.61 287.40 L180.19 287.72 L180.78 288.03 L181.36 288.34 L181.95 288.65 L182.53 288.96 L183.12 289.27 L183.71 289.57 L184.30 289.88 L184.89 290.18 L185.48 290.48 L186.07 290.79 L186.67 291.09 L187.26 291.39 L187.86 291.68 L188.46 291.98 L189.05 292.28 L189.66 292.57 L190.26 292.87 L190.86 293.16 L191.46 293.45 L192.07 293.74 L192.68 294.03 L193.28 294.31 L193.89 294.60 L194.50 294.88 L195.11 295.17 L195.73 295.45 L196.34 295.73 L196.95 296.01 L197.57 296.29 L198.19 296.56 L198.81 296.84 L199.43 297.11 L200.05 297.38 L200.67 297.66 L201.29 297.93 L201.92 298.19 L202.54 298.46 L203.17 298.73 L203.80 298.99 L204.43 299.25 L205.06 299.51 L205.69 299.77 L206.32 300.03 L206.96 300.29 L207.59 300.54 L208.23 300.80 L208.87 301.05 L209.50 301.30 L210.15 301.55 L210.79 301.79 L211.43 302.04 L212.07 302.28 L212.72 302.53 L213.36 302.77 L214.01 303.01 L214.66 303.24 L215.31 303.48 L215.96 303.71 L216.61 303.95 L217.27 304.18 L217.92 304.41 L218.58 304.64 L219.24 304.86 L219.89 305.09 L220.55 305.31 L221.21 305.53 L221.88 305.75 L222.54 305.96 L223.20 306.18 L223.87 306.39 L224.54 306.61 L225.20 306.82 L225.87 307.02 L226.54 307.23 L227.22 307.44 L227.89 307.64 L228.56 307.84 L229.24 308.04 L229.91 308.24 L230.59 308.43 L231.27 308.62 L231.95 308.82 L232.63 309.00 L233.32 309.19 L234.00 309.38 L234.68 309.56 L235.37 309.74 L236.06 309.92 L236.75 310.10 L237.44 310.28 L238.13 310.45 L238.82 310.62 L239.51 310.79 L240.21 310.96 L240.90 311.12 L241.60 311.29 L242.30 311.45 L243.00 311.61 L243.70 311.76 L244.40 311.92 L245.10 312.07 L245.81 312.22 L246.51 312.37 L247.22 312.52 L247.93 312.66 L248.64 312.80 L249.35 312.94 L250.06 313.08 L250.77 313.22 L251.49 313.35 L252.20 313.48 L252.92 313.61 L253.64 313.73 L254.35 313.86 L255.07 313.98 L255.80 314.10 L256.52 314.22 L257.24 314.33 L257.97 314.44 L258.69 314.55 L259.42 314.66 L260.15 314.76 L260.88 314.87 L261.61 314.97 L262.34 315.06 L263.08 315.16 L263.81 315.25 L264.55 315.34 L265.28 315.43 L266.02 315.52 L266.76 315.60 L267.50 315.68 L268.24 315.76 L268.99 315.83 L269.73 315.90 L270.48 315.97 L271.22 316.04 L271.97 316.11 L272.72 316.17 L273.47 316.23 L274.22 316.29 L274.97 316.34 L275.73 316.39 L276.48 316.44 L277.24 316.49 L278.00 316.53 L278.76 316.57 L279.52 316.61 L280.28 316.64 L281.04 316.68 L281.80 316.71 L282.57 316.73 L283.33 316.76 L284.10 316.78 L284.87 316.80 L285.64 316.81 L286.41 316.83 L287.18 316.84 L287.95 316.84 L288.73 316.85 L289.50 316.85 L290.28 316.85 L291.06 316.84 L291.84 316.84 L292.62 316.83 L293.40 316.81 L294.18 316.80 L294.97 316.78 L295.75 316.75 L296.54 316.73 L297.33 316.70 L298.12 316.67 L298.91 316.64 L299.70 316.60 L300.49 316.56 L301.28 316.51 L302.08 316.47 L302.88 316.42 L303.67 316.36 L304.47 316.31 L305.27 316.25 L306.07 316.18 L306.88 316.12 L307.68 316.05 L308.48 315.98 L309.29 315.90 L310.10 315.82 L310.90 315.74 L311.71 315.65 L312.53 315.57 L313.34 315.47 L314.15 315.38 L314.96 315.28 L315.78 315.18 L316.60 315.07 L317.41 314.96 L318.23 314.85 L319.05 314.74 L319.88 314.62 L320.70 314.49 L321.52 314.37 L322.35 314.24 L323.17 314.11 L324.00 313.97 L324.83 313.83 L325.66 313.69 L326.49 313.54 L327.33 313.39 L328.16 313.23 L328.99 313.08 L329.83 312.91 L330.67 312.75 L331.51 312.58 L332.35 312.41 L333.19 312.23 L334.03 312.05 L334.87 311.87 L335.72 311.68 L336.56 311.49 L337.41 311.30 L338.26 311.10 L339.11 310.90 L339.96 310.69 L340.81 310.48 L341.66 310.27 L342.52 310.05 L343.37 309.83 L344.23 309.61 L345.09 309.38 L345.95 309.15 L346.81 308.91 L347.67 308.67 L348.53 308.42 L349.39 308.18 L350.26 307.92 L351.13 307.67 L351.99 307.41 L352.86 307.14 L353.73 306.88 L354.60 306.60 L355.48 306.33 L356.35 306.05 L357.22 305.76 L358.10 305.47 L358.98 305.18 L359.86 304.88 L360.74 304.58 L361.62 304.28 L362.50 303.97 L363.38 303.66 L364.27 303.34 L365.15 303.02 L366.04 302.69 L366.93 302.36 L367.82 302.03 L368.71 301.69 L369.60 301.34 L370.49 301.00 L371.39 300.65 L372.28 300.29 L373.18 299.93 L374.08 299.56 L374.97 299.20 L375.88 298.82 L376.78 298.44 L377.68 298.06 L378.58 297.67 L379.49 297.28 L380.39 296.89 L381.30 296.49 L382.21 296.08 L383.12 295.67 L384.03 295.26 L384.94 294.84 L385.86 294.42 L386.77 293.99 L387.69 293.56 L388.61 293.12 L389.52 292.68 L390.44 292.23 L391.36 291.78 L392.29 291.33 L393.21 290.87 L394.13 290.40 L395.06 289.93 L395.99 289.46 L396.91 288.98 L397.84 288.50 L398.77 288.01 L399.71 287.51 L400.64 287.02 L401.57 286.51 L402.51 286.00 L403.44 285.49 L404.38 284.97 L405.32 284.45 L406.26 283.92 L407.20 283.39 L408.14 282.85 L409.09 282.31 L410.03 281.76 L410.98 281.21 L411.93 280.65 L412.88 280.09 L413.83 279.52 L414.78 278.95 L415.73 278.37 L416.68 277.79 L417.64 277.20 L418.59 276.61 L419.55 276.01 L420.51 275.41 L421.47 274.80 L422.43 274.18 L423.39 273.56 L424.35 272.94 L425.32 272.31 L426.28 271.67 L427.25 271.03 L428.22 270.39 L429.19 269.74 L430.16 269.08 L431.13 268.42 L432.10 267.75 L433.07 267.08 L434.05 266.40 L435.03 265.72 L436.00 265.03 L436.98 264.34 L437.96 263.64 L438.94 262.93 L439.93 262.22 L440.91 261.50 L441.90 260.78 L442.88 260.06 L443.87 259.32 L444.86 258.58 L445.85 257.84 L446.84 257.09 L447.83 256.34 L448.82 255.57 L449.82 254.81 L450.81 254.04 L451.81 253.26 L452.81 252.47 L453.81 251.68 L454.81 250.89 L455.81 250.09 L456.81 249.28 L457.82 248.47 L458.82 247.65 L459.83 246.82 L460.84 245.99 L461.85 245.16 L462.86 244.32 L463.87 243.47 L464.88 242.61 L465.89 241.75 L466.91 240.89 L467.93 240.01 L468.94 239.14 L469.96 238.25 L470.98 237.36 L472.00 236.47 L473.03 235.56 L474.05 234.66 L475.07 233.74 L476.10 232.82 L477.13 231.89 L478.16 230.96 L479.18 230.02 L480.22 229.08 L481.25 228.12 L482.28 227.17 L483.32 226.20 L484.35 225.23 L485.39 224.25 L486.43 223.27 L487.47 222.28 L488.51 221.29 L489.55 220.28 L490.59 219.27 L491.63 218.26 L492.68 217.24 L493.73 216.21 L494.77 215.18 L495.82 214.13 L496.87 213.09 L497.92 212.03 L498.98 210.97 L500.03 209.91 L501.09 208.83 L502.14 207.75 L503.20 206.67 L504.26 205.57 L505.32 204.47 L506.38 203.37 L507.44 202.25 L508.50 201.13 L509.57 200.00 L510.64 198.87 L511.70 197.73 L512.77 196.58 L513.84 195.43 L514.91 194.27 L515.98 193.10 L517.06 191.93 L518.13 190.75 L519.21 189.56 L520.28 188.36 L521.36 187.16 L522.44 185.95 L523.52 184.73 L524.60 183.51 L525.68 182.28 L526.77 181.04 L527.85 179.80 L528.94 178.55" fill="none" stroke="#ff0000" stroke-width="2.6" stroke-linecap="square" stroke-dasharray="6.46 6.46" stroke-dashoffset="0.5" clip-path="url(#cp)"/>
<g stroke="#000" stroke-width="0.92" fill="none">
<line x1="14.5" y1="328.5" x2="540" y2="328.5"/>
<line x1="25" y1="54.5" x2="25" y2="379"/>
<line x1="22.40" y1="328.5" x2="22.40" y2="322.30"/>
<line x1="49.06" y1="328.5" x2="49.06" y2="324.80"/>
<line x1="75.72" y1="328.5" x2="75.72" y2="324.80"/>
<line x1="102.38" y1="328.5" x2="102.38" y2="324.80"/>
<line x1="129.04" y1="328.5" x2="129.04" y2="324.80"/>
<line x1="155.70" y1="328.5" x2="155.70" y2="322.30"/>
<line x1="182.36" y1="328.5" x2="182.36" y2="324.80"/>
<line x1="209.02" y1="328.5" x2="209.02" y2="324.80"/>
<line x1="235.68" y1="328.5" x2="235.68" y2="324.80"/>
<line x1="262.34" y1="328.5" x2="262.34" y2="324.80"/>
<line x1="289.00" y1="328.5" x2="289.00" y2="322.30"/>
<line x1="315.66" y1="328.5" x2="315.66" y2="324.80"/>
<line x1="342.32" y1="328.5" x2="342.32" y2="324.80"/>
<line x1="368.98" y1="328.5" x2="368.98" y2="324.80"/>
<line x1="395.64" y1="328.5" x2="395.64" y2="324.80"/>
<line x1="422.30" y1="328.5" x2="422.30" y2="322.30"/>
<line x1="448.96" y1="328.5" x2="448.96" y2="324.80"/>
<line x1="475.62" y1="328.5" x2="475.62" y2="324.80"/>
<line x1="502.28" y1="328.5" x2="502.28" y2="324.80"/>
<line x1="528.94" y1="328.5" x2="528.94" y2="324.80"/>
<line x1="25" y1="362.70" x2="28.70" y2="362.70"/>
<line x1="25" y1="345.60" x2="28.70" y2="345.60"/>
<line x1="25" y1="311.40" x2="28.70" y2="311.40"/>
<line x1="25" y1="294.30" x2="28.70" y2="294.30"/>
<line x1="25" y1="277.20" x2="28.70" y2="277.20"/>
<line x1="25" y1="260.10" x2="28.70" y2="260.10"/>
<line x1="25" y1="243.00" x2="31.20" y2="243.00"/>
<line x1="25" y1="225.90" x2="28.70" y2="225.90"/>
<line x1="25" y1="208.80" x2="28.70" y2="208.80"/>
<line x1="25" y1="191.70" x2="28.70" y2="191.70"/>
<line x1="25" y1="174.60" x2="28.70" y2="174.60"/>
<line x1="25" y1="157.50" x2="31.20" y2="157.50"/>
<line x1="25" y1="140.40" x2="28.70" y2="140.40"/>
<line x1="25" y1="123.30" x2="28.70" y2="123.30"/>
<line x1="25" y1="106.20" x2="28.70" y2="106.20"/>
<line x1="25" y1="89.10" x2="28.70" y2="89.10"/>
<line x1="25" y1="72.00" x2="31.20" y2="72.00"/>
<line x1="25" y1="54.90" x2="28.70" y2="54.90"/>
</g>
<line x1="147.20" y1="183.7" x2="205.80" y2="183.7" stroke="#000000" stroke-width="2.6" stroke-linecap="square" stroke-dasharray="6.5 6.48"/>
<line x1="147.20" y1="219.15" x2="205.80" y2="219.15" stroke="#0000ff" stroke-width="2.6" stroke-linecap="square" stroke-dasharray="6.5 6.48"/>
<line x1="147.20" y1="254.5" x2="205.80" y2="254.5" stroke="#ff0000" stroke-width="2.6" stroke-linecap="square" stroke-dasharray="6.5 6.48"/>
<text transform="translate(219.3 189.1) scale(1 1)" font-family="'Liberation Sans', sans-serif" font-weight="bold" font-size="22.5" fill="#000">b=0.02<tspan font-style="italic" dx="1.3">M</tspan><tspan font-weight="normal" font-size="15.7" dx="-1.0" dy="-9.2">2</tspan></text>
<text transform="translate(219.3 224.6) scale(1 1)" font-family="'Liberation Sans', sans-serif" font-weight="bold" font-size="22.5" fill="#000">b=0.034291149<tspan font-style="italic" dx="1.3">M</tspan><tspan font-weight="normal" font-size="15.7" dx="-1.0" dy="-9.2">2</tspan></text>
<text transform="translate(219.3 260.1) scale(1 1)" font-family="'Liberation Sans', sans-serif" font-weight="bold" font-size="22.5" fill="#000">b=0.04<tspan font-style="italic" dx="1.3">M</tspan><tspan font-weight="normal" font-size="15.7" dx="-1.0" dy="-9.2">2</tspan></text>
<text transform="translate(145.21 344.85) scale(0.9861 1.0063)" font-family="'Liberation Sans', sans-serif" font-size="15.3" font-weight="normal" font-style="normal" fill="#000" style="font-kerning:none">0.5</text>
<text transform="translate(0.12 247.70) scale(0.9636 0.9875)" font-family="'Liberation Sans', sans-serif" font-size="15.3" font-weight="normal" font-style="normal" fill="#000" style="font-kerning:none">0.5</text>
<text transform="translate(278.89 344.85) scale(0.9536 1.0063)" font-family="'Liberation Sans', sans-serif" font-size="15.3" font-weight="normal" font-style="normal" fill="#000" style="font-kerning:none">1.0</text>
<text transform="translate(-0.09 162.10) scale(0.9720 0.9875)" font-family="'Liberation Sans', sans-serif" font-size="15.3" font-weight="normal" font-style="normal" fill="#000" style="font-kerning:none">1.0</text>
<text transform="translate(412.19 344.85) scale(0.9557 1.0213)" font-family="'Liberation Sans', sans-serif" font-size="15.3" font-weight="normal" font-style="normal" fill="#000" style="font-kerning:none">1.5</text>
<text transform="translate(-0.10 76.60) scale(0.9742 1.0023)" font-family="'Liberation Sans', sans-serif" font-size="15.3" font-weight="normal" font-style="normal" fill="#000" style="font-kerning:none">1.5</text>
<text transform="translate(17.04 39.60) scale(1.1034 0.9993)" font-family="'Liberation Sans', sans-serif" font-size="19.2" font-weight="bold" font-style="normal" fill="#000" style="font-kerning:none">Δ</text>
<text transform="translate(552.10 336.20) scale(1.0355 1.0000)" font-family="'Liberation Sans', sans-serif" font-size="19.0" font-weight="bold" font-style="normal" fill="#000" style="font-kerning:none">r/M</text>
<text transform="translate(202.74 15.60) scale(1.0006 1.0000)" font-family="'Liberation Serif', serif" font-size="22.6" font-weight="bold" font-style="normal" fill="#000" style="font-kerning:none">0.1M</text>
<text transform="translate(258.70 15.60) scale(0.9589 1.0000)" font-family="'Liberation Serif', serif" font-size="22.6" font-weight="bold" font-style="normal" fill="#000" style="font-kerning:none">and</text>
<text transform="translate(300.73 15.60) scale(0.9189 1.0000)" font-family="'Liberation Serif', serif" font-size="22.6" font-weight="bold" font-style="normal" fill="#000" style="font-kerning:none">a</text>
<text transform="translate(327.03 15.60) scale(1.0090 1.0000)" font-family="'Liberation Serif', serif" font-size="22.6" font-weight="bold" font-style="normal" fill="#000" style="font-kerning:none">0.4M</text>
<rect x="189.20" y="5.8" width="13.20" height="2.1" fill="#000"/>
<rect x="189.20" y="11.4" width="13.20" height="2.2" fill="#000"/>
<rect x="312.90" y="5.8" width="13.30" height="2.1" fill="#000"/>
<rect x="312.90" y="11.4" width="13.30" height="2.2" fill="#000"/>
<path d="M184.7 2.1 C184.1 2.6 183.7 3.4 183.4 4.3 L180.3 12.6 C179.8 14 179.9 15.2 181 15.4 C181.8 15.5 182.6 14.9 183.1 14.3" fill="none" stroke="#000" stroke-width="2.5" stroke-linecap="round"/>
<path d="M177.9 11.0 C181 9.6 186.2 6.4 187.3 3.8 C187.9 2.3 187.3 1.1 186.1 1.1 C185.4 1.2 185 1.6 184.7 2.1" fill="none" stroke="#000" stroke-width="1.0" stroke-linecap="round"/>
</svg></body></html>
